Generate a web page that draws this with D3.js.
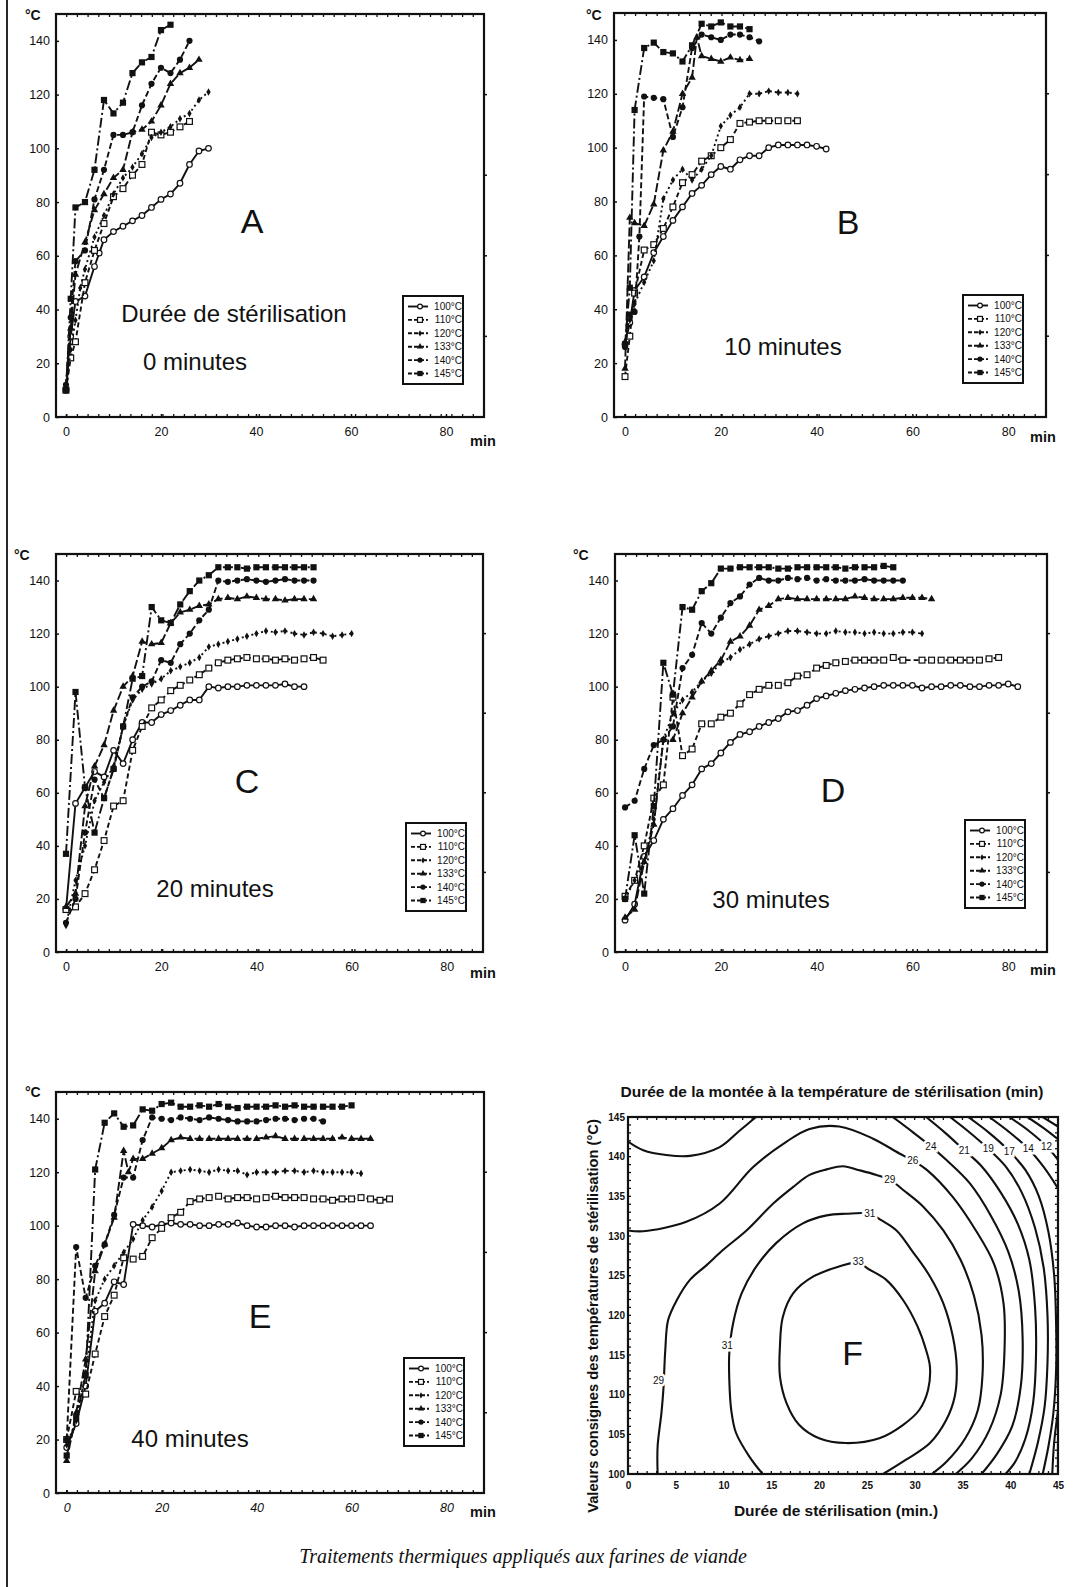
<!DOCTYPE html>
<html><head><meta charset="utf-8">
<script src="https://cdn.jsdelivr.net/npm/d3@7"></script>
<style>
body{margin:0;background:#fff;}
svg{display:block;}
text{font-family:"Liberation Sans",Arial,sans-serif;fill:#111;}
</style>
</head><body>
<svg id="c" width="1074" height="1587"></svg>
<script>
// ---------------- DATA ----------------
const seriesLabels = ["100°C","110°C","120°C","133°C","140°C","145°C"];
const xTickValues = [0,20,40,60,80];
const yTickValues = [0,20,40,60,80,100,120,140];
const fXTickValues = [0,5,10,15,20,25,30,35,40,45];
const fYTickValues = [100,105,110,115,120,125,130,135,140,145];
const panelLetters = ["A","B","C","D","E"];
const panelNotes = [["Durée de stérilisation","0 minutes"],["10 minutes"],["20 minutes"],["30 minutes"],["40 minutes"]];

// Panel A (0 minutes)
const A100 = [[0,10],[1,30],[2,43],[4,45],[6,56],[7,61],[8,66],[10,69],[12,71],[14,73],[16,75],[18,78],[20,81],[22,83],[24,87],[26,94],[28,99],[30,100]];
const A110 = [[0,10],[1,22],[2,28],[4,50],[6,62],[8,72],[10,82],[12,85],[14,90],[16,94],[18,106],[20,105],[22,106],[24,108],[26,110]];
const A120 = [[0,10],[1,25],[2,36],[3,48],[4,55],[6,67],[8,75],[10,83],[12,89],[14,93],[16,98],[18,104],[20,106],[22,108],[24,111],[26,113],[28,118],[30,121]];
const A133 = [[0,11],[1,33],[2,53],[4,65],[6,77],[8,83],[10,89],[12,92],[14,106],[16,107],[18,110],[20,116],[22,124],[24,128],[26,130],[28,133]];
const A140 = [[0,12],[1,37],[2,58],[4,62],[6,81],[8,92],[10,105],[12,105],[14,106],[16,116],[18,124],[20,130],[22,128],[24,133],[26,140]];
const A145 = [[0,10],[1,44],[2,78],[4,80],[6,92],[8,118],[10,113],[12,117],[14,128],[16,132],[18,134],[20,144],[22,146]];
// Panel B (10 minutes)
const B100 = [[0,27],[1,35],[2,47],[4,52],[6,61],[8,67],[10,73],[12,78],[14,83],[16,86],[18,90],[20,93],[22,92],[24,95.5],[26,97],[28,97],[30,100],[32,101],[34,101],[36,101],[38,101],[40,100.5],[42,99.5]];
const B110 = [[0,15],[1,30],[2,46],[4,62],[6,64],[8,70],[10,78],[12,87],[14,90],[16,95],[18,97],[20,100],[22,103],[24,109],[26,109.5],[28,110],[30,110],[32,110],[34,110],[36,110]];
const B120 = [[0,28],[1,36],[2,42],[4,50],[6,58],[8,81],[10,88],[12,92],[14,88],[16,92],[18,97],[20,108],[22,112],[24,115],[26,120],[28,120],[30,121],[32,120.5],[34,120.5],[36,120]];
const B133 = [[0,18],[1,74],[2,72],[4,71],[6,79],[8,99],[10,106],[12,120],[14,126],[15,141],[16,134],[18,133],[20,132],[22,133.5],[24,132.5],[26,133]];
const B140 = [[0,26],[1,38],[2,39],[3,67],[4,119],[6,118.5],[8,118],[10,104],[12,115],[14,137],[16,142],[18,141],[20,140],[22,142],[24,142],[26,141],[28,139.5]];
const B145 = [[0,27],[1,48],[2,114],[4,137],[6,139],[8,135.5],[10,135],[12,132],[14,138],[16,146],[18,145],[20,146.5],[22,145],[24,145],[26,144]];
// Panel C (20 minutes)
const C100 = [[0,16],[2,56],[4,62],[6,68],[8,66],[10,76],[12,71],[14,80],[16,86.5],[18,86.5],[20,89.5],[22,91],[24,93],[26,95],[28,95],[30,100],[32,99.5],[34,100],[36,100],[38,100.5],[40,100.5],[42,100.5],[44,100.5],[46,101],[48,100],[50,100]];
const C110 = [[0,16],[2,17],[4,22],[6,31],[8,42],[10,55],[12,57],[14,76],[16,85],[18,92],[20,95],[22,98.5],[24,100.5],[26,102.5],[28,104.5],[30,107],[32,109],[34,110],[36,110.5],[38,111],[40,110.5],[42,110.5],[44,110],[46,110.5],[48,110],[50,110.5],[52,111],[54,110]];
const C120 = [[0,10],[2,27],[4,40],[6,57],[8,64],[10,70],[12,85],[14,95],[16,99],[18,101],[20,103],[22,106],[24,107.5],[26,109],[28,111],[30,115],[32,116],[34,117],[36,118],[38,119],[40,120],[42,121],[44,120.5],[46,121],[48,120],[50,119.5],[52,120.5],[54,120],[56,119],[58,119.5],[60,120]];
const C133 = [[0,17],[2,22],[4,55],[6,70],[8,78],[10,91],[12,100],[14,104],[16,117],[18,116],[20,116.5],[22,124],[24,128],[26,129],[28,130.5],[30,131],[32,133],[34,133.5],[36,133],[38,134],[40,133.5],[42,133],[44,133],[46,132.5],[48,133],[50,133],[52,133]];
const C140 = [[0,11],[2,20],[4,45],[6,65],[8,58],[10,69],[12,85],[14,96],[16,100],[18,102],[20,110],[22,109],[24,116],[26,120],[28,125],[30,129],[32,140],[34,139.5],[36,140],[38,140.5],[40,140],[42,139.5],[44,140],[46,140.5],[48,140],[50,140],[52,140]];
const C145 = [[0,37],[2,98],[4,62],[6,45],[8,58],[10,69],[12,85],[14,103],[16,104],[18,130],[20,125],[22,124],[24,131],[26,136],[28,140],[30,142],[32,145],[34,145],[36,145],[38,144.5],[40,145],[42,145],[44,145],[46,145],[48,145],[50,145],[52,145]];
// Panel D (30 minutes)
const D100 = [[0,12],[2,18],[4,36],[6,42],[8,50],[10,54],[12,59],[14,63],[16,69],[18,71],[20,75],[22,79],[24,82],[26,83],[28,85],[30,86.5],[32,88],[34,90.5],[36,91],[38,93],[40,95.5],[42,96.5],[44,97.5],[46,98.5],[48,99],[50,99.5],[52,100],[54,100.5],[56,100.5],[58,100.5],[60,100.5],[62,99.5],[64,100],[66,100],[68,100.5],[70,100.5],[72,100],[74,100],[76,100.5],[78,100.5],[80,101],[82,100]];
const D110 = [[0,21],[2,27],[4,40],[6,58],[8,63],[10,96],[12,74],[14,76.5],[16,86],[18,86],[20,88.5],[22,90],[24,93.5],[26,97],[28,99],[30,100.5],[32,100.5],[34,101.5],[36,104],[38,104.5],[40,107],[42,108],[44,109],[46,109.5],[48,110],[50,110],[52,110],[54,110],[56,111],[58,110],[62,110],[64,110],[66,110],[68,110],[70,110],[72,110],[74,110],[76,110.5],[78,111]];
const D120 = [[0,20],[2,27],[4,34],[6,50],[8,80],[10,90],[12,95],[14,98],[16,102],[18,105],[20,109],[22,111],[24,114],[26,116],[28,118],[30,119],[32,120],[34,121],[36,121],[38,120.5],[40,120],[42,120],[44,121],[46,120.5],[48,120.5],[50,120],[52,120.5],[54,120],[56,120],[58,120.5],[60,120.5],[62,120]];
const D133 = [[0,13],[2,16],[4,34],[6,48],[8,80],[10,80],[12,90],[14,96],[16,102],[18,106],[20,110],[22,117],[24,119],[26,123],[28,129],[30,130.5],[32,133],[34,133.5],[36,133],[38,133],[40,133],[42,133],[44,133],[46,133],[48,134],[50,133.5],[52,133],[54,133],[56,133],[58,133.5],[60,133.5],[62,133.5],[64,133]];
const D140 = [[0,54.5],[2,57],[4,69],[6,78],[8,80],[10,85],[12,107],[14,112],[16,124],[18,120],[20,126],[22,131.5],[24,134],[26,138.5],[28,141],[30,140],[32,140],[34,141],[36,140.5],[38,141],[40,140],[42,140.5],[44,140],[46,140],[48,140],[50,140.5],[52,140],[54,140],[56,140],[58,140]];
const D145 = [[0,20],[2,44],[4,22],[6,55],[8,109],[10,97],[12,130],[14,129],[16,136],[18,139],[20,144.5],[22,144.5],[24,145],[26,145],[28,145],[30,145],[32,144.5],[34,144.5],[36,145],[38,145],[40,145],[42,145],[44,145],[46,144.5],[48,145],[50,145],[52,145],[54,145.5],[56,145]];
// Panel E (40 minutes)
const E100 = [[0,17],[2,26],[4,40],[6,68],[8,71],[10,79],[12,78],[14,100.5],[16,100],[18,99.5],[20,100.5],[22,101],[24,100.5],[26,100.5],[28,100],[30,100],[32,100.5],[34,100.5],[36,101],[38,100],[40,99.5],[42,99.5],[44,100],[46,100],[48,99.5],[50,100],[52,100],[54,100],[56,100],[58,100],[60,100],[62,100],[64,100]];
const E110 = [[0,20],[2,38],[4,37],[6,52],[8,66],[10,74],[12,88],[14,87.5],[16,88.5],[18,95.5],[20,99],[22,103],[24,105],[26,109],[28,110],[30,110.5],[32,111],[34,110],[36,110.5],[38,110.5],[40,110],[42,110.5],[44,111],[46,110.5],[48,110.5],[50,110.5],[52,110],[54,110],[56,109.5],[58,110],[60,110],[62,110.5],[64,110],[66,109.5],[68,110]];
const E120 = [[0,18],[2,27],[4,45],[6,72],[8,80],[10,85],[12,90],[14,95],[16,102],[18,107],[20,113],[22,120],[24,120.5],[26,121],[28,120.5],[30,120],[32,121],[34,120.5],[36,120.5],[38,119],[40,120],[42,120],[44,120],[46,120.5],[48,120.5],[50,120],[52,120.5],[54,120],[56,120],[58,120],[60,120],[62,119.5]];
const E133 = [[0,12],[2,30],[4,50],[6,83],[8,93],[10,103],[12,128],[13,120],[14,125],[16,125],[18,127],[20,129],[22,132],[24,133],[26,132.5],[28,132.5],[30,132.5],[32,132.5],[34,132.5],[36,132.5],[38,132.5],[40,132.5],[42,133],[44,133.5],[46,132.5],[48,132.5],[50,132.5],[52,132.5],[54,132.5],[56,132.5],[58,133],[60,132.5],[62,132.5],[64,132.5]];
const E140 = [[0,20],[2,92],[4,73],[6,85],[8,93],[10,104],[12,118],[14,118],[16,132],[18,140.5],[20,140],[22,139.5],[24,140.5],[26,140],[28,139.5],[30,140.5],[32,140],[34,139.5],[36,139],[38,139],[40,139],[42,139.5],[44,140],[46,140],[48,139.5],[50,140],[52,140],[54,139]];
const E145 = [[0,14],[2,28],[4,44],[6,121],[8,138.5],[10,142],[12,137],[14,137.5],[16,143.5],[18,143],[20,145.5],[22,146],[24,144.5],[26,144.5],[28,145],[30,144.5],[32,145.5],[34,144.5],[36,144],[38,144.5],[40,144.5],[42,144.5],[44,145],[46,144.5],[48,145],[50,144.5],[52,144.5],[54,144.5],[56,144.5],[58,144.5],[60,145]];

// Panel F: iso-lines (durée de stérilisation [min], consigne [°C])
const F24a = [[0,141.9],[1.6,140.8],[4,140.2],[6.5,140.1],[9.6,141.2],[11.7,143.3],[13.4,145]];
const F26 = [[0,130.7],[1.6,130.6],[6.1,131.8],[9.6,134.1],[13.1,138.7],[16.6,141.9],[19,143.5],[22.1,143.8],[25.6,142.3],[28.4,140.4],[29.8,139.5],[31.3,138.3],[34,134.9],[36.4,130.7],[38.3,126.5],[39.3,121.5],[39.4,115.5],[39,110],[37.8,105.5],[36,102],[34.3,100]];
const F29 = [[3.1,100],[3.1,103.5],[3.5,107.7],[3.7,110.6],[3.9,115.6],[4.2,119.4],[5.1,121.9],[6.5,124.5],[8.2,126.3],[9.9,128.2],[12.4,130.7],[15.2,134.1],[17.3,136.2],[19,137.7],[20.8,138.4],[22.5,138.8],[24.2,138.3],[26,137.7],[27.4,137.1],[28.8,135.8],[30.9,133.7],[33,130.7],[34.8,127],[36.2,122.5],[37,117.5],[37.1,112.5],[36.6,108],[35.3,104.5],[33.3,101.5],[31.8,100]];
const F31 = [[14.1,100],[12.7,102.2],[11.3,105.2],[10.8,108.1],[10.6,111.9],[10.6,115.2],[11,119],[11.9,122.8],[13.4,126.1],[15.5,129.1],[18.3,131.6],[20.8,132.6],[22.8,132.8],[25.3,132.8],[26.5,132],[28.1,130.7],[29.8,128],[31.6,124.9],[33,121.5],[34,117.3],[34.4,113.5],[34.2,109.8],[33.3,106.8],[31.6,103.9],[29.1,101.8],[26.7,100]];
const F33 = [[24.1,126.8],[25.1,125.9],[27,124.5],[28.8,121.9],[30.3,118.6],[31.2,115.6],[31.6,113.5],[31.4,110.6],[30.5,108.1],[28.8,106.2],[26.3,104.5],[22.8,103.9],[20,104.5],[17.9,106.2],[16.6,108.9],[15.9,112.3],[15.9,116.1],[16.2,119.8],[17.3,122.8],[19.4,124.9],[22.5,126.3],[24.1,126.8]];
const F24b = [[27.7,145],[29.8,143.1],[31.7,141.3],[33.3,139.6],[35.8,136.6],[38,132.5],[39.8,128],[40.9,123],[41.3,117],[41.1,111],[40.2,106],[38.6,102.5],[37,100]];
const F21 = [[31.2,145],[33.2,143],[35.2,140.8],[37,138.8],[39,135.5],[40.8,131.5],[42,127],[42.6,121],[42.7,115],[42.4,109],[41.6,104.5],[40.5,101.5],[39.5,100]];
const F19 = [[33.7,145],[35.6,143.2],[37.7,141],[39.5,138.8],[41.2,135.5],[42.6,131],[43.5,126],[43.9,120],[43.9,114],[43.6,108.5],[42.9,104],[42,100]];
const F17 = [[35.6,145],[37.8,143],[39.9,140.7],[41.6,138.3],[43,135],[44,130.5],[44.6,125],[44.8,119],[44.8,113],[44.5,107.5],[44,103.5],[43.4,100]];
const F14 = [[37.8,145],[39.9,143.1],[41.9,141],[43.5,138.7],[45,136]];
const F14b = [[45,108],[44.6,104],[44.4,100]];
const F12 = [[39.9,145],[42,143.2],[43.8,141.3],[45,139.6]];
const F12b = [[45,104],[45,100]];
const F10 = [[41.8,145],[43.5,143.6],[45,142.2]];
const F09 = [[43.4,145],[45,143.8]];
const fLabels = [["24",31.7,141.3],["21",35.2,140.8],["19",37.7,141],["17",39.9,140.7],["14",41.9,141],["12",43.8,141.3],["26",29.8,139.5],["29",27.4,137.1],["31",25.3,132.8],["33",24.1,126.8],["31",10.4,116.2],["29",3.2,111.8]];

// ---------------- LAYOUT / STYLE ----------------
const panelData = [
  [A100,A110,A120,A133,A140,A145],
  [B100,B110,B120,B133,B140,B145],
  [C100,C110,C120,C133,C140,C145],
  [D100,D110,D120,D133,D140,D145],
  [E100,E110,E120,E133,E140,E145]
];
const panelBoxes = [
  {l:56,r:484,t:14,b:417,xd:[-2.1,88],letter:[252,233],notes:[[234,322],[195,370]],legend:[403,296],degC:[25,20],minP:[470,446],italicX:false},
  {l:614,r:1046,t:13,b:417,xd:[-2.3,87.9],letter:[848,234],notes:[[783,355]],legend:[963,295],degC:[586,20],minP:[1030,442],italicX:false},
  {l:56,r:483,t:554,b:952,xd:[-2.1,87.6],letter:[247,793],notes:[[215,897]],legend:[406,823],degC:[14,560],minP:[470,978],italicX:false},
  {l:615,r:1047,t:554,b:952,xd:[-2.1,88.1],letter:[833,802],notes:[[771,908]],legend:[965,820],degC:[573,560],minP:[1030,975],italicX:false},
  {l:56,r:484,t:1092,b:1493,xd:[-2.25,87.9],letter:[260,1328],notes:[[190,1447]],legend:[404,1358],degC:[25,1097],minP:[470,1517],italicX:true}
];
const seriesStyle = [
  {dash:null, mk:"circleOpen"},
  {dash:"5,3", mk:"squareOpen"},
  {dash:"2,3", mk:"plus"},
  {dash:"9,3", mk:"triangle"},
  {dash:"6,3", mk:"circleFilled"},
  {dash:"10,3,2,3", mk:"squareFilled"}
];
const INK = "#111";
const svg = d3.select("#c");
svg.append("rect").attr("width",1074).attr("height",1587).attr("fill","#fff");
// left margin rule
svg.append("line").attr("x1",7).attr("x2",7).attr("y1",0).attr("y2",1587).attr("stroke",INK).attr("stroke-width",1.8);

function marker(g, x, y, type, s) {
  s = s || 1;
  if (type==="circleOpen") g.append("circle").attr("cx",x).attr("cy",y).attr("r",2.8*s).attr("fill","#fff").attr("stroke",INK).attr("stroke-width",1.2);
  else if (type==="squareOpen") g.append("rect").attr("x",x-2.9*s).attr("y",y-2.9*s).attr("width",5.8*s).attr("height",5.8*s).attr("fill","#fff").attr("stroke",INK).attr("stroke-width",1.2);
  else if (type==="plus") g.append("path").attr("transform",`translate(${x},${y})`).attr("d",d3.symbol(d3.symbolDiamond, 16*s*s)()).attr("fill",INK);
  else if (type==="triangle") g.append("path").attr("transform",`translate(${x},${y})`).attr("d",d3.symbol(d3.symbolTriangle, 24*s*s)()).attr("fill",INK);
  else if (type==="circleFilled") g.append("circle").attr("cx",x).attr("cy",y).attr("r",3.1*s).attr("fill",INK);
  else if (type==="squareFilled") g.append("rect").attr("x",x-3.1*s).attr("y",y-3.1*s).attr("width",6.2*s).attr("height",6.2*s).attr("fill",INK);
}

panelData.forEach((sets, pi) => {
  const P = panelBoxes[pi];
  const x = d3.scaleLinear().domain(P.xd).range([P.l,P.r]);
  const y = d3.scaleLinear().domain([0,150]).range([P.b,P.t]);
  const g = svg.append("g");
  g.append("rect").attr("x",P.l).attr("y",P.t).attr("width",P.r-P.l).attr("height",P.b-P.t).attr("fill","none").attr("stroke",INK).attr("stroke-width",2.2);
  for (let i=1;i<40;i++){
    const xx = P.l + i*(P.r-P.l)/40;
    g.append("line").attr("x1",xx).attr("x2",xx).attr("y1",P.t).attr("y2",P.t+3).attr("stroke",INK).attr("stroke-width",1.3);
    g.append("line").attr("x1",xx).attr("x2",xx).attr("y1",P.b).attr("y2",P.b-3).attr("stroke",INK).attr("stroke-width",1.3);
  }
  [30,60,90,120].forEach(v=>{
    g.append("line").attr("x1",P.r).attr("x2",P.r+3).attr("y1",y(v)).attr("y2",y(v)).attr("stroke",INK).attr("stroke-width",1.5);
  });
  const ya = d3.axisLeft(y).tickValues(yTickValues).tickSize(-3).tickPadding(6).tickFormat(d3.format("d"));
  const ag = g.append("g").attr("transform",`translate(${P.l},0)`).call(ya);
  ag.select(".domain").remove();
  ag.selectAll("line").attr("stroke",INK).attr("stroke-width",1.5);
  ag.selectAll("text").attr("font-size",12.5).attr("fill",INK).style("font-family","Liberation Sans, Arial, sans-serif");
  const xa = d3.axisBottom(x).tickValues(xTickValues).tickSize(-3).tickPadding(10).tickFormat(d3.format("d"));
  const bg = g.append("g").attr("transform",`translate(0,${P.b})`).call(xa);
  bg.select(".domain").remove();
  bg.selectAll("line").attr("stroke",INK).attr("stroke-width",1.5);
  bg.selectAll("text").attr("font-size",12.5).attr("fill",INK).style("font-family","Liberation Sans, Arial, sans-serif").style("font-style",P.italicX?"italic":"normal");
  g.append("text").attr("x",P.degC[0]).attr("y",P.degC[1]).attr("font-size",14).attr("font-weight","bold").text("°C");
  g.append("text").attr("x",P.minP[0]).attr("y",P.minP[1]).attr("font-size",14.5).attr("font-weight","bold").text("min");
  const sg = g.append("g");
  sets.forEach((pts, si) => {
    const st = seriesStyle[si];
    const line = d3.line().x(d=>x(d[0])).y(d=>y(d[1]));
    sg.append("path").attr("d",line(pts)).attr("fill","none").attr("stroke",INK).attr("stroke-width",1.9)
      .attr("stroke-dasharray",st.dash).attr("stroke-linejoin","round");
    pts.forEach(d=>marker(sg, x(d[0]), y(d[1]), st.mk));
  });
  g.append("text").attr("x",P.letter[0]).attr("y",P.letter[1]).attr("text-anchor","middle").attr("font-size",34).text(panelLetters[pi]);
  panelNotes[pi].forEach((t,k)=>{
    g.append("text").attr("x",P.notes[k][0]).attr("y",P.notes[k][1]).attr("text-anchor","middle").attr("font-size",24).text(t);
  });
  const lg = g.append("g").attr("transform",`translate(${P.legend[0]},${P.legend[1]})`);
  lg.append("rect").attr("x",0).attr("y",0).attr("width",60).attr("height",88).attr("fill","#fff").attr("stroke",INK).attr("stroke-width",2);
  seriesLabels.forEach((lab,si)=>{
    const yy = 10.5 + si*13.4;
    const st = seriesStyle[si];
    lg.append("line").attr("x1",5).attr("x2",25).attr("y1",yy).attr("y2",yy).attr("stroke",INK).attr("stroke-width",1.9).attr("stroke-dasharray",st.dash?"4,2":null);
    marker(lg, 17, yy, st.mk, 0.85);
    lg.append("text").attr("x",59).attr("y",yy+3.5).attr("text-anchor","end").attr("font-size",10).text(lab);
  });
});

// ---------------- PANEL F ----------------
(function(){
  const L=628, R=1058, T=1117, B=1474;
  const x = d3.scaleLinear().domain([0,45]).range([L,R]);
  const y = d3.scaleLinear().domain([100,145]).range([B,T]);
  const g = svg.append("g");
  svg.append("clipPath").attr("id","clipF").append("rect").attr("x",L).attr("y",T).attr("width",R-L).attr("height",B-T);
  const cg = g.append("g").attr("clip-path","url(#clipF)");
  const line = d3.line().x(d=>x(d[0])).y(d=>y(d[1])).curve(d3.curveCatmullRom.alpha(0.5));
  [F24a,F26,F29,F31,F33,F24b,F21,F19,F17,F14,F14b,F12,F12b,F10,F09].forEach(c=>{
    cg.append("path").attr("d",line(c)).attr("fill","none").attr("stroke",INK).attr("stroke-width",2.1);
  });
  fLabels.forEach(l=>{
    g.append("text").attr("x",x(l[1])).attr("y",y(l[2])+3.5).attr("text-anchor","middle").attr("font-size",10)
      .attr("stroke","#fff").attr("stroke-width",5).attr("paint-order","stroke").text(l[0]);
  });
  g.append("rect").attr("x",L).attr("y",T).attr("width",R-L).attr("height",B-T).attr("fill","none").attr("stroke",INK).attr("stroke-width",2.2);
  for (let v=0; v<=45; v++){
    g.append("line").attr("x1",x(v)).attr("x2",x(v)).attr("y1",B).attr("y2",B-3).attr("stroke",INK).attr("stroke-width",1.3);
    g.append("line").attr("x1",x(v)).attr("x2",x(v)).attr("y1",T).attr("y2",T+3).attr("stroke",INK).attr("stroke-width",1.3);
  }
  for (let v=100; v<=145; v++){
    g.append("line").attr("x1",L).attr("x2",L+3).attr("y1",y(v)).attr("y2",y(v)).attr("stroke",INK).attr("stroke-width",1.3);
    g.append("line").attr("x1",R).attr("x2",R-3).attr("y1",y(v)).attr("y2",y(v)).attr("stroke",INK).attr("stroke-width",1.3);
  }
  const xa = d3.axisBottom(x).tickValues(fXTickValues).tickSize(0).tickPadding(8);
  const bg = g.append("g").attr("transform",`translate(0,${B})`).call(xa);
  bg.select(".domain").remove();
  bg.selectAll("text").attr("font-size",10).attr("font-weight","bold").attr("fill",INK).style("font-family","Liberation Sans, Arial, sans-serif");
  const ya = d3.axisLeft(y).tickValues(fYTickValues).tickSize(0).tickPadding(3);
  const lgA = g.append("g").attr("transform",`translate(${L},0)`).call(ya);
  lgA.select(".domain").remove();
  lgA.selectAll("text").attr("font-size",10).attr("font-weight","bold").attr("fill",INK).style("font-family","Liberation Sans, Arial, sans-serif");
  g.append("text").attr("x",832).attr("y",1097).attr("text-anchor","middle").attr("font-size",15.5).attr("font-weight","bold").text("Durée de la montée à la température de stérilisation (min)");
  g.append("text").attr("x",836).attr("y",1516).attr("text-anchor","middle").attr("font-size",15.5).attr("font-weight","bold").text("Durée de stérilisation (min.)");
  g.append("text").attr("transform","translate(598,1316) rotate(-90)").attr("text-anchor","middle").attr("font-size",14.7).attr("font-weight","bold").text("Valeurs consignes des températures de stérilisation (°C)");
  g.append("text").attr("x",x(23.5)).attr("y",1365).attr("text-anchor","middle").attr("font-size",34).text("F");
})();

// caption
svg.append("text").attr("x",523).attr("y",1563).attr("text-anchor","middle").attr("font-size",20).attr("font-style","italic")
  .style("font-family","Liberation Serif, Times New Roman, serif").text("Traitements thermiques appliqués aux farines de viande");
</script>
</body></html>
